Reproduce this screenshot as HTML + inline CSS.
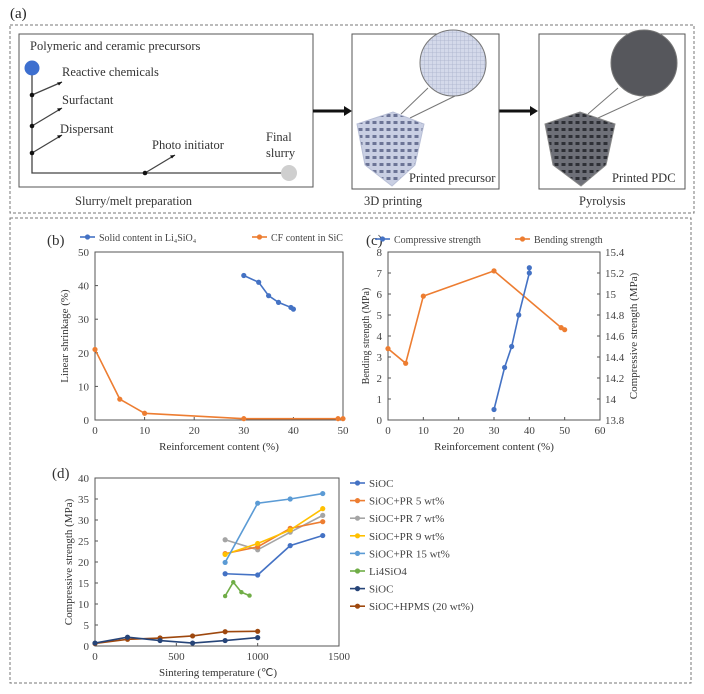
<!DOCTYPE html>
<html><head><meta charset="utf-8">
<style>
body{margin:0;background:#fff;}
svg{display:block;font-family:"Liberation Serif",serif;}
</style></head>
<body>
<svg id="fig" width="704" height="694" viewBox="0 0 704 694" xmlns="http://www.w3.org/2000/svg">
<defs>
<pattern id="gridL" width="4" height="4" patternUnits="userSpaceOnUse"><rect width="4" height="4" fill="#d4d9ea"/><path d="M0 0H4M0 0V4" stroke="#aab2cc" stroke-width="0.8"/></pattern>
<pattern id="cubeL" width="7" height="7" patternUnits="userSpaceOnUse"><rect width="7" height="7" fill="#c9cfe3"/><rect x="1.5" y="2" width="4" height="3" fill="#6c7496"/></pattern>
<pattern id="cubeD" width="7" height="7" patternUnits="userSpaceOnUse"><rect width="7" height="7" fill="#6e7078"/><rect x="1.5" y="2" width="4" height="3" fill="#2e3036"/></pattern>
</defs>
<!-- Panel a -->
<text x="10" y="18" font-size="15" fill="#222">(a)</text>
<rect x="10" y="25" width="684" height="188" fill="none" stroke="#777" stroke-dasharray="3,2"/>
<rect x="19" y="34" width="294" height="153" fill="none" stroke="#555"/>
<g font-size="12.5" fill="#333">
<text x="30" y="50">Polymeric and ceramic precursors</text>
<text x="62" y="76">Reactive chemicals</text>
<text x="62" y="104">Surfactant</text>
<text x="60" y="133">Dispersant</text>
<text x="152" y="149">Photo initiator</text>
<text x="266" y="141">Final</text>
<text x="266" y="157">slurry</text>
<text x="75" y="205">Slurry/melt preparation</text>
<text x="364" y="205">3D printing</text>
<text x="579" y="205">Pyrolysis</text>
<text x="409" y="182">Printed precursor</text>
<text x="612" y="182">Printed PDC</text>
</g>
<g stroke="#444" stroke-width="1.3" fill="none">
<path d="M32 68V173H289"/>
<path d="M32 95L62 82M32 126L62 108M32 153L62 135M145 173L175 155"/>
</g>
<g fill="#111">
<circle cx="32" cy="95" r="2.3"/><circle cx="32" cy="126" r="2.3"/><circle cx="32" cy="153" r="2.3"/><circle cx="145" cy="173" r="2.3"/>
<path d="M62 82l-5 0.5 2 3z M62 108l-5 0.5 2 3z M62 135l-5 0.5 2 3z M175 155l-5 0.5 2 3z"/>
</g>
<circle cx="32" cy="68" r="7.5" fill="#3d6fcf"/>
<circle cx="289" cy="173" r="8" fill="#cfcfcf"/>
<g>
<path d="M313 111H346" stroke="#111" stroke-width="3"/><path d="M352 111l-8 -5v10z" fill="#111"/>
<path d="M499 111H532" stroke="#111" stroke-width="3"/><path d="M538 111l-8 -5v10z" fill="#111"/>
</g>
<rect x="352" y="34" width="147" height="155" fill="none" stroke="#555"/>
<rect x="539" y="34" width="146" height="155" fill="none" stroke="#555"/>
<line x1="401" y1="114" x2="428" y2="88" stroke="#777"/>
<line x1="455" y1="96" x2="410" y2="118" stroke="#777"/>
<circle cx="453" cy="63" r="33" fill="url(#gridL)" stroke="#777"/>
<polygon points="357,124 393,112 424,124 415,165 392,186 365,165" fill="url(#cubeL)" stroke="#b8bfd6"/>
<line x1="588" y1="114" x2="618" y2="88" stroke="#777"/>
<line x1="646" y1="96" x2="598" y2="118" stroke="#777"/>
<circle cx="644" cy="63" r="33" fill="#56575c" stroke="#777"/>
<polygon points="545,124 580,112 615,124 606,165 581,186 553,165" fill="url(#cubeD)" stroke="#888"/>
<!-- lower -->
<rect x="10" y="218" width="681" height="465" fill="none" stroke="#777" stroke-dasharray="3,2"/>
<g id="charts"></g>
</svg>
<script>
// Panel b data
const bBlueX=[30,33,35,37,39.5,40];
const bBlueY=[43,41,37,35,33.5,33];
const bOrX=[0,5,10,30,49,50];
const bOrY=[21,6.2,2,0.4,0.4,0.4];
const bXTicks=[0,10,20,30,40,50];
const bYTicks=[0,10,20,30,40,50];
// Panel c data
const cBendX=[0,5,10,30,49,50];
const cBendY=[3.4,2.7,5.9,7.1,4.4,4.3];
const cCompX=[30,33,35,37,40,40];
const cCompY=[13.9,14.3,14.5,14.8,15.2,15.25];
const cXTicks=[0,10,20,30,40,50,60];
const cYTicks=[0,1,2,3,4,5,6,7,8];
const cY2Ticks=["13.8","14","14.2","14.4","14.6","14.8","15","15.2","15.4"];
// Panel d data
const dNames=["SiOC","SiOC+PR 5 wt%","SiOC+PR 7 wt%","SiOC+PR 9 wt%","SiOC+PR 15 wt%","Li4SiO4","SiOC","SiOC+HPMS (20 wt%)"];
const dColors=["#4472c4","#ed7d31","#a5a5a5","#ffc000","#5b9bd5","#70ad47","#264478","#9e480e"];
const dX0=[800,1000,1200,1400];
const dSiOC=[17.2,16.9,23.9,26.3];
const dPR5=[22,23.6,28,29.6];
const dPR7=[25.3,22.9,27.1,31.1];
const dPR9=[21.8,24.4,27.6,32.7];
const dPR15=[19.9,34,35,36.3];
const dLiX=[800,850,900,950];
const dLi=[11.9,15.2,12.8,12];
const dLowX=[0,200,400,600,800,1000];
const dSiOC2=[0.7,2.1,1.3,0.7,1.3,2.0];
const dHPMS=[0.6,1.6,1.9,2.4,3.4,3.5];
const dXTicks=[0,500,1000,1500];
const dYTicks=[0,5,10,15,20,25,30,35,40];

const NS="http://www.w3.org/2000/svg";
const root=document.getElementById('charts');
function mk(tag,attrs,parent,txt){const e=document.createElementNS(NS,tag);for(const k in attrs)e.setAttribute(k,attrs[k]);if(txt!==undefined)e.textContent=txt;(parent||root).appendChild(e);return e;}
function scale(d0,d1,r0,r1){return v=>r0+(v-d0)*(r1-r0)/(d1-d0);}

function frame(x0,x1,y0,y1,name){
  const r=mk('rect',{x:x0,y:y0,width:x1-x0,height:y1-y0,fill:'none',stroke:'#555','stroke-width':1});
  
  
}
function series(xs,ys,sx,sy,color,name,r){
  const g=mk('g',{});
  
  
  const pts=xs.map((x,i)=>sx(x)+','+sy(ys[i])).join(' ');
  mk('polyline',{points:pts,fill:'none',stroke:color,'stroke-width':1.6},g);
  xs.forEach((x,i)=>{const c=mk('circle',{cx:sx(x),cy:sy(ys[i]),r:r||2.6,fill:color},g);
    
    });
}
function xTicks(ticks,sx,y,name){
  ticks.forEach(t=>{mk('line',{x1:sx(t),x2:sx(t),y1:y,y2:y-3,stroke:'#555'});
    const e=mk('text',{x:sx(t),y:y+14,'font-size':11,'text-anchor':'middle',fill:'#444'},root,t);
    
    });
}
function yTicks(ticks,sy,x,name,right,labels){
  ticks.forEach((t,i)=>{mk('line',{x1:x,x2:right?x-3:x+3,y1:sy(t),y2:sy(t),stroke:'#555'});
    const e=mk('text',{x:right?x+5:x-6,y:sy(t)+4,'font-size':11,'text-anchor':right?'start':'end',fill:'#444'},root,labels?labels[i]:t);
    
    });
}
function label(txt,x,y,size,name,rot,anchor){
  const a={x:x,y:y,'font-size':size,fill:'#333','text-anchor':anchor||'middle'};
  if(rot)a.transform='rotate(-90 '+x+' '+y+')';
  const e=mk('text',a,root,txt);
  
  
}
function legendEntry(x,y,color,txt,name,fs){
  const g=mk('g',{});
  
  
  mk('line',{x1:x,x2:x+15,y1:y,y2:y,stroke:color,'stroke-width':1.6},g);
  mk('circle',{cx:x+7.5,cy:y,r:2.6,fill:color},g);
  mk('text',{x:x+19,y:y+4,'font-size':fs||11,fill:'#444'},g,txt);
}

// Panel b
label('(b)',47,245,15,'panel-b-label',false,'start');
{const sx=scale(0,50,95,343),sy=scale(0,50,420,252);
 frame(95,343,252,420,'panel-b-plot-area');
 xTicks(bXTicks,sx,420,'b-x-tick');yTicks(bYTicks,sy,95,'b-y-tick');
 series(bOrX,bOrY,sx,sy,'#ed7d31','b-cf-sic-series');
 series(bBlueX,bBlueY,sx,sy,'#4472c4','b-solid-li4sio4-series');
 label('Linear shrinkage (%)',68,336,11,'b-y-axis-title',true);
 label('Reinforcement content (%)',219,450,11,'b-x-axis-title');
 legendEntry(80,237,'#4472c4','Solid content in Li₄SiO₄','b-legend-solid',10);
 legendEntry(252,237,'#ed7d31','CF content in SiC','b-legend-cf',10);}

// Panel c
label('(c)',366,245,15,'panel-c-label',false,'start');
{const sx=scale(0,60,388,600),sy=scale(0,8,420,252),sy2=scale(13.8,15.4,420,252);
 frame(388,600,252,420,'panel-c-plot-area');
 xTicks(cXTicks,sx,420,'c-x-tick');yTicks(cYTicks,sy,388,'c-y-tick');
 yTicks(cY2Ticks.map(Number),sy2,600,'c-y2-tick',true,cY2Ticks);
 series(cBendX,cBendY,sx,sy,'#ed7d31','c-bending-series');
 series(cCompX,cCompY,sx,sy2,'#4472c4','c-compressive-series');
 label('Bending strength (MPa)',369,336,10,'c-y-axis-title',true);
 label('Compressive strength (MPa)',637,336,11,'c-y2-axis-title',true);
 label('Reinforcement content (%)',494,450,11,'c-x-axis-title');
 legendEntry(375,239,'#4472c4','Compressive strength','c-legend-compressive',10);
 legendEntry(515,239,'#ed7d31','Bending strength','c-legend-bending',10);}

// Panel d
label('(d)',52,478,15,'panel-d-label',false,'start');
{const sx=scale(0,1500,95,339),sy=scale(0,40,646,478);
 frame(95,339,478,646,'panel-d-plot-area');
 xTicks(dXTicks,sx,646,'d-x-tick');yTicks(dYTicks,sy,95,'d-y-tick');
 series(dLowX,dHPMS,sx,sy,dColors[7],'d-hpms-series');
 series(dLowX,dSiOC2,sx,sy,dColors[6],'d-sioc-low-series');
 series(dLiX,dLi,sx,sy,dColors[5],'d-li4sio4-series',2.2);
 series(dX0,dSiOC,sx,sy,dColors[0],'d-sioc-series');
 series(dX0,dPR7,sx,sy,dColors[2],'d-pr7-series');
 series(dX0,dPR5,sx,sy,dColors[1],'d-pr5-series');
 series(dX0,dPR9,sx,sy,dColors[3],'d-pr9-series');
 series(dX0,dPR15,sx,sy,dColors[4],'d-pr15-series');
 label('Compressive strength (MPa)',72,562,11,'d-y-axis-title',true);
 label('Sintering temperature (℃)',218,676,11,'d-x-axis-title');
 dNames.forEach((n,i)=>legendEntry(350,483+i*17.6,dColors[i],n,'d-legend-entry'));}
</script>
</body></html>
